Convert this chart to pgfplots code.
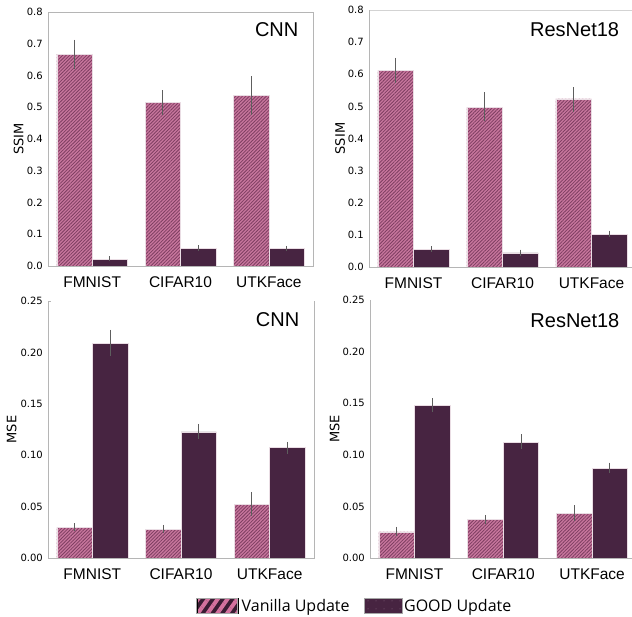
\documentclass[border=0pt]{standalone}
\usepackage{pgfplots}
\pgfplotsset{compat=1.18}
\usepackage{pgfplotstable}
\usetikzlibrary{patterns.meta}
\usepackage{fontspec}
\setmainfont{Liberation Sans}
\newfontfamily\dejavu{DejaVu Sans}
\newfontfamily\opensans{Open Sans}

\definecolor{vpink}{HTML}{C8769D}
\definecolor{vline}{HTML}{7E3E61}
\definecolor{gpurp}{HTML}{472441}
\definecolor{spinec}{HTML}{B5B5B5}
\definecolor{errc}{HTML}{5E5E5E}
\definecolor{edgec}{HTML}{EADDE4}
\definecolor{legpink}{HTML}{D4719E}
\definecolor{legdark}{HTML}{3A1C33}
\definecolor{legdot}{HTML}{8A6A84}

% SSIM, CNN
\pgfplotstableread{
x y ep em
0 0.667 0.046 0.046
1 0.516 0.038 0.040
2 0.538 0.059 0.062
}\ssimCnnV
\pgfplotstableread{
x y ep em
0 0.022 0.008 0.007
1 0.056 0.010 0.010
2 0.056 0.007 0.008
}\ssimCnnG
% SSIM, ResNet18
\pgfplotstableread{
x y ep em
0 0.612 0.040 0.040
1 0.498 0.046 0.043
2 0.523 0.036 0.042
}\ssimResV
\pgfplotstableread{
x y ep em
0 0.056 0.009 0.008
1 0.044 0.010 0.009
2 0.102 0.011 0.010
}\ssimResG
% MSE, CNN
\pgfplotstableread{
x y ep em
0 0.0298 0.0042 0.0038
1 0.0282 0.0042 0.0039
2 0.0525 0.0119 0.0120
}\mseCnnV
\pgfplotstableread{
x y ep em
0 0.2089 0.0131 0.0123
1 0.1227 0.0078 0.0071
2 0.1072 0.0058 0.0062
}\mseCnnG
% MSE, ResNet18
\pgfplotstableread{
x y ep em
0 0.0252 0.0051 0.0042
1 0.0371 0.0048 0.0042
2 0.0429 0.0084 0.0074
}\mseResV
\pgfplotstableread{
x y ep em
0 0.1477 0.0071 0.0067
1 0.1123 0.0077 0.0065
2 0.0871 0.0052 0.0048
}\mseResG

\pgfplotsset{
  base/.style={
    scale only axis, clip=false,
    bar width=0.4,
    xmin=-0.5, xmax=2.5, ymin=0,
    xtick={0,1,2}, xticklabels={FMNIST,CIFAR10,UTKFace},
    major tick length=0pt,
    axis line style={draw=none},
    xticklabel style={font=\fontsize{15.5}{18}\selectfont, yshift=-7pt},
    yticklabel style={font=\dejavu\fontsize{10}{12}\selectfont, xshift=-1.7pt},
    /pgf/number format/assume math mode=true,
    ylabel style={font=\dejavu\fontsize{13}{15}\selectfont, anchor=center},
  },
  ssim/.style={base, ymax=0.8, ytick={0,0.1,...,0.8},
    yticklabel style={/pgf/number format/.cd, fixed, fixed zerofill, precision=1},
    ylabel={SSIM}},
  mse/.style={base, ymax=0.25, ytick={0,0.05,0.1,0.15,0.2,0.25},
    yticklabel style={/pgf/number format/.cd, fixed, fixed zerofill, precision=2},
    ylabel={MSE}},
  errs/.style={error bars/y dir=both, error bars/y explicit,
    error bars/error mark=none,
    error bars/error bar style={draw=errc, line width=1.0pt}},
  vanbar/.style={ybar, fill=vpink, draw=edgec, line width=0.6pt, bar shift=0pt,
    postaction={pattern={Lines[angle=45,distance=2.4pt,line width=0.8pt]}, pattern color=vline},
    errs},
  goodbar/.style={ybar, fill=gpurp, draw=edgec, line width=0.6pt, bar shift=0pt, errs},
}

\begin{document}
\begin{tikzpicture}
% ---------------- top left: SSIM CNN
\begin{axis}[ssim, at={(48pt,-266pt)}, anchor=south west, width=265pt, height=254pt,
  ylabel style={at={(axis description cs:-0.111,0.5)}}]
  \addplot[vanbar] table[x expr=\thisrow{x}-0.2, y=y, y error plus=ep, y error minus=em] {\ssimCnnV};
  \addplot[goodbar] table[x expr=\thisrow{x}+0.2, y=y, y error plus=ep, y error minus=em] {\ssimCnnG};
  \draw[spinec, line width=0.8pt] (rel axis cs:0,1) -- (rel axis cs:0,0) -- (rel axis cs:1,0) -- (rel axis cs:1,1) -- cycle;
  \node[anchor=base east, font=\fontsize{20}{24}\selectfont] at (axis description cs:0.958,0.902) {CNN};
\end{axis}
% ---------------- top right: SSIM ResNet18
\begin{axis}[ssim, at={(369pt,-267pt)}, anchor=south west, width=267pt, height=257pt,
  ylabel style={at={(axis description cs:-0.108,0.5)}}]
  \addplot[vanbar] table[x expr=\thisrow{x}-0.2, y=y, y error plus=ep, y error minus=em] {\ssimResV};
  \addplot[goodbar] table[x expr=\thisrow{x}+0.2, y=y, y error plus=ep, y error minus=em] {\ssimResG};
  \draw[spinec!60, line width=0.8pt] (rel axis cs:0,1) -- (rel axis cs:1,1);
  \draw[spinec, line width=0.8pt] (rel axis cs:0,1) -- (rel axis cs:0,0) -- (rel axis cs:1,0) -- (rel axis cs:1,1);
  \node[anchor=base east, font=\fontsize{20}{24}\selectfont] at (axis description cs:0.950,0.895) {ResNet18};
\end{axis}
% ---------------- bottom left: MSE CNN
\begin{axis}[mse, at={(48pt,-558pt)}, anchor=south west, width=266pt, height=257pt,
  ylabel style={at={(axis description cs:-0.137,0.5)}}]
  \addplot[vanbar] table[x expr=\thisrow{x}-0.2, y=y, y error plus=ep, y error minus=em] {\mseCnnV};
  \addplot[goodbar] table[x expr=\thisrow{x}+0.2, y=y, y error plus=ep, y error minus=em] {\mseCnnG};
  \draw[spinec, line width=0.8pt] (rel axis cs:0,1) -- (rel axis cs:0,0) -- (rel axis cs:1,0) -- (rel axis cs:1,1);
  \draw[spinec, line width=0.8pt] (rel axis cs:0,1) -- ++(3pt,0pt);
  \node[anchor=base east, font=\fontsize{20}{24}\selectfont] at (axis description cs:0.958,0.899) {CNN};
\end{axis}
% ---------------- bottom right: MSE ResNet18
\begin{axis}[mse, at={(370pt,-558pt)}, anchor=south west, width=266.5pt, height=258pt,
  ylabel style={at={(axis description cs:-0.133,0.5)}},
  legend columns=2,
  legend style={draw=none, fill=none, font=\opensans\fontsize{16}{19}\selectfont,
    at={(axis description cs:-0.060,-0.186)}, anchor=center,
    /tikz/every even column/.append style={column sep=12pt}}]
  \addplot[vanbar, forget plot] table[x expr=\thisrow{x}-0.2, y=y, y error plus=ep, y error minus=em] {\mseResV};
  \addplot[goodbar, forget plot] table[x expr=\thisrow{x}+0.2, y=y, y error plus=ep, y error minus=em] {\mseResG};
  \addlegendimage{legend image code/.code={
      \path[fill=legdark] (0pt,-6.5pt) rectangle (41pt,8pt);
      \path[pattern={Lines[angle=55,distance=8pt,line width=4pt]}, pattern color=legpink] (0pt,-6.5pt) rectangle (41pt,8pt);
      \draw[gray!70, line width=0.5pt] (0pt,-6.5pt) rectangle (41pt,8pt);
    }}
  \addlegendentry{Vanilla Update}
  \addlegendimage{legend image code/.code={
      \path[fill=gpurp] (0pt,-6.5pt) rectangle (38pt,8pt);
      \path[pattern={Dots[distance=8pt,radius=0.5pt]}, pattern color=legdot] (0pt,-6.5pt) rectangle (38pt,8pt);
      \draw[gray!70, line width=0.5pt] (0pt,-6.5pt) rectangle (38pt,8pt);
    }}
  \addlegendentry{GOOD Update}
  \draw[spinec, line width=0.8pt] (rel axis cs:0,1) -- (rel axis cs:0,0) -- (rel axis cs:1,0) -- (rel axis cs:1,1);
  \node[anchor=base east, font=\fontsize{20}{24}\selectfont] at (axis description cs:0.949,0.895) {ResNet18};
\end{axis}
\pgfresetboundingbox
\path[use as bounding box] (0pt,0pt) rectangle (632pt,-617pt);
\end{tikzpicture}
\end{document}
